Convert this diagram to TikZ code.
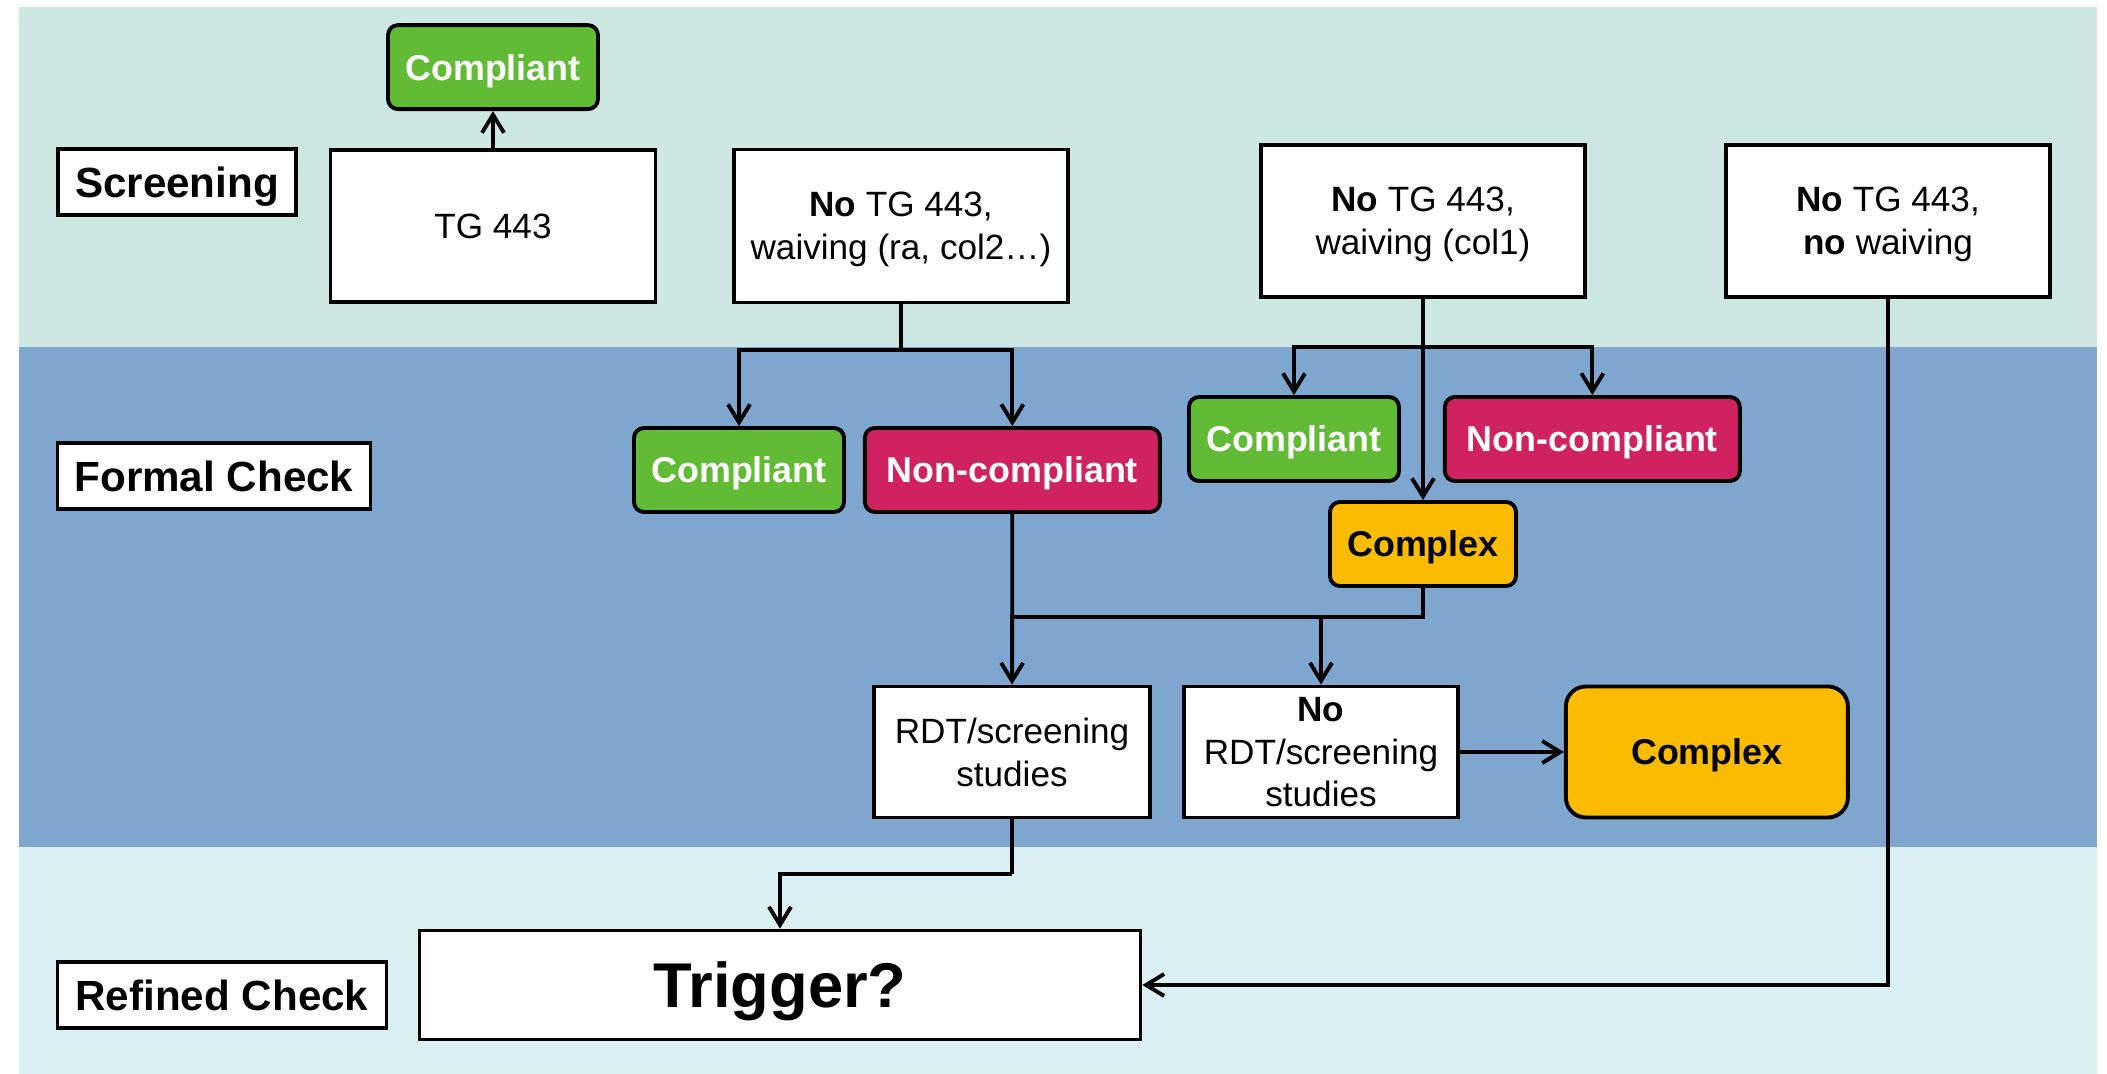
\documentclass[tikz,border=0pt]{standalone}
\usepackage{fontspec}
\setmainfont{Liberation Sans}
\usepackage{xcolor}
\definecolor{bandtop}{RGB}{205,231,227}
\definecolor{bandmid}{RGB}{127,166,207}
\definecolor{bandbot}{RGB}{219,240,245}
\definecolor{okgreen}{RGB}{98,187,52}
\definecolor{badred}{RGB}{208,33,96}
\definecolor{amber}{RGB}{251,188,0}
\usepackage{tikz}
\usetikzlibrary{positioning}
\usetikzlibrary{arrows.meta}
\tikzset{phase node/.style={draw,fill=white,inner sep=0pt,text depth=0pt,minimum height=6.6mm,font=\fontsize{12}{14}\selectfont\bfseries},
  white node/.style={draw,fill=white,inner sep=0pt,text depth=0pt,align=center,font=\fontsize{10}{12.2}\selectfont},
  result node/.style={draw,rounded corners=1mm,inner sep=0pt,text depth=0pt,minimum height=8.4mm,font=\fontsize{10.2}{12}\selectfont\bfseries},
  ok node/.style={result node,fill=okgreen,text=white,minimum width=21mm},
  bad node/.style={result node,fill=badred,text=white,minimum width=29.5mm},
  cplx node/.style={result node,fill=amber},}

\begin{document}
\begin{tikzpicture}[x=0.1mm, y=-0.1mm, >={Straight Barb[length=1.8mm,width=2.2mm]}, line width=1.1pt]
	\useasboundingbox (0,0) rectangle (2107,1074);
	% lanes
	\fill[bandtop] (19,7) rectangle (2097,347);
	\fill[bandmid] (19,347) rectangle (2097,847);
	\fill[bandbot] (19,847) rectangle (2097,1074);

	\node[phase node, minimum width=23.8mm] (scr) at (177,182) {Screening};
	\node[phase node, minimum width=31.3mm] (fc) at (214,476) {Formal Check};
	\node[phase node, minimum width=32.9mm] (rc) at (222,995) {Refined Check};

	\node[white node, minimum width=32.5mm, minimum height=15.2mm] (tg) at (493,226) {TG 443};
	\node[ok node] (ok0) [above=3.7mm of tg] {Compliant};
	\node[white node, minimum width=33.4mm, minimum height=15.3mm] (ra) at (901,226) {\textbf{No} TG 443,\\waiving (ra, col2…)};
	\node[white node, minimum width=32.4mm, minimum height=15.2mm] (col1) at (1423,221) {\textbf{No} TG 443,\\waiving (col1)};
	\node[white node, minimum width=32.4mm, minimum height=15.2mm] (nowv) at (1888,221) {\textbf{No} TG 443,\\\textbf{no} waiving};

	\node[ok node] (ok1) at (739,470) {Compliant};
	\node[bad node] (bad1) [right=1.7mm of ok1] {Non-compliant};
	\node[ok node] (ok2) at (1294,439) {Compliant};
	\node[bad node] (bad2) [right=4.2mm of ok2] {Non-compliant};
	\node[cplx node, minimum width=18.6mm] (cplx1) at (1423,544) {Complex};

	\node[white node, minimum width=27.6mm, minimum height=13.1mm] (rdt) at (1012,752) {RDT/screening\\studies};
	\node[white node, minimum width=27.4mm, minimum height=13.1mm] (nordt) at (1321,752) {\textbf{No}\\RDT/screening\\studies};
	\node[cplx node, rounded corners=2mm, minimum width=28.2mm, minimum height=13.1mm] (cplx2) [right=10.4mm of nordt] {Complex};

	\node[white node, minimum width=72.1mm, minimum height=10.9mm, font=\fontsize{18}{20}\selectfont\bfseries] (trig) at (780,985) {Trigger?};

	\coordinate (ra fork) at (901,350);
	\coordinate (col fork) at (1423,347);
	\coordinate (merge) at (1012,617);
	\coordinate (merge fork) at (1321,617);
	\coordinate (rdt bend) at (1012,874);

	\draw[->] (tg) -- (ok0);
	\draw (ra) -- (ra fork);
	\draw[->] (ra fork) -| (ok1);
	\draw[->] (ra fork) -| (bad1);
	\draw[->] (col1) -- (cplx1);
	\draw[->] (col fork) -| (ok2);
	\draw[->] (col fork) -| (bad2);
	\draw[->] (bad1) -- (rdt);
	\draw (cplx1) |- (merge);
	\draw[->] (merge fork) -- (nordt);
	\draw[->] (nordt) -- (cplx2);
	\draw (rdt) -- (rdt bend);
	\draw[->] (rdt bend) -| (trig);
	\draw[->] (nowv) |- (trig);
\end{tikzpicture}
\end{document}
